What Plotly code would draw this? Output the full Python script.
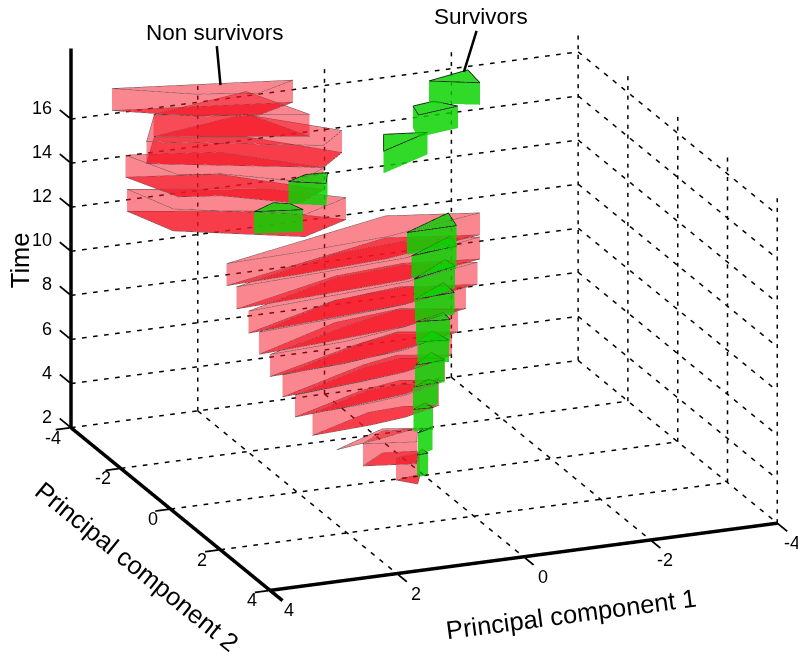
import plotly.graph_objects as go

x_ticks = [4, 2, 0, -2, -4]
y_ticks = [-4, -2, 0, 2, 4]
z_ticks = [2, 4, 6, 8, 10, 12, 14, 16]

# non survivors, one polygon per time slice (top of the slice)
red_top = [3, 4, 6, 7, 8, 9, 10, 11, 12, 13, 14, 15, 16, 17, 18]
red_pc1 = [
    [0.46, 0.03, 0.23],
    [1.04, 0.56, 0.05, 0.27],
    [1.95, 0.81, 0.24, -0.27, 0.39, 1.0],
    [2.25, 0.89, 0.21, -0.4, 0.37, 1.15],
    [2.45, 0.83, 0.2, -0.55, 0.37, 1.32],
    [2.65, 1.01, 0.18, -0.65, 0.35, 1.42],
    [2.79, 1.23, 0.12, -0.78, 0.35, 1.62],
    [2.95, 1.23, 0.1, -0.97, 0.34, 1.68],
    [3.08, 1.19, 0.05, -1.06, 0.31, 1.71],
    [3.19, 0.24, -1.09, 0.57, 1.96],
    [3.67, 1.76, 0.84, 1.68, 3.37],
    [3.49, 2.19, 1.01, 1.56, 2.51, 3.1],
    [2.8, 1.55, 0.51, 1.01, 3.35],
    [3.17, 1.53, 1.05, 1.92],
    [3.67, 1.07, 1.75, 2.63],
]
red_pc2 = [
    [0.04, -0.08, 0.33],
    [0.19, -0.25, -0.14, 0.4],
    [0.48, -0.18, -0.24, -0.08, 0.23, 0.37],
    [0.54, -0.22, -0.43, -0.18, 0.18, 0.35],
    [0.55, -0.35, -0.58, -0.28, 0.18, 0.37],
    [0.55, -0.29, -0.63, -0.29, 0.13, 0.42],
    [0.48, -0.44, -0.66, -0.3, 0.12, 0.33],
    [0.46, -0.45, -0.62, -0.33, 0.11, 0.29],
    [0.3, -0.54, -0.7, -0.45, 0.02, 0.17],
    [0.19, -0.94, -0.54, -0.05, 0.11],
    [-2.58, -1.81, -1.0, -0.51, -1.49],
    [-3.1, -2.72, -1.46, -1.01, -1.78, -1.97],
    [-3.71, -3.2, -2.0, -1.47, -2.62],
    [-2.8, -3.25, -1.93, -2.29],
    [-3.2, -2.54, -2.18, -2.49],
]
# thin sheet at the start of the non survivor branch
sheet_z = 4
sheet_pc1 = [1.49, 0.53, 0.04, 0.72]
sheet_pc2 = [0.29, -0.34, -0.18, 0.07]

# survivors
green_top = [3, 4, 5, 6, 7, 8, 9, 10, 11, 12, 13, 14, 15, 16, 17, 18]
green_pc1 = [
    [0.12, -0.04, -0.06],
    [0.11, -0.03, -0.17],
    [0.15, -0.12, -0.15],
    [0.15, -0.19, -0.27],
    [0.12, -0.31, -0.36],
    [0.07, -0.31, -0.39],
    [0.12, -0.4, -0.38],
    [0.13, -0.54, -0.52],
    [0.17, -0.58, -0.6],
    [0.19, -0.67, -0.59],
    [0.23, -0.66, -0.56],
    [2.32, 1.91, 1.7, 1.62],
    [1.72, 1.37, 1.04, 1.24],
    [0.01, -0.62, 0.29],
    [-0.49, -0.86, -1.1, -0.42],
    [-0.76, -1.47, -1.42],
]
green_pc2 = [
    [0.03, -0.19, 0.01],
    [0.03, -0.11, -0.1],
    [-0.05, -0.27, -0.02],
    [-0.06, -0.31, -0.13],
    [-0.05, -0.51, -0.1],
    [-0.09, -0.47, 0.0],
    [-0.02, -0.25, 0.08],
    [-0.04, -0.59, -0.11],
    [0.03, -0.63, -0.28],
    [-0.03, -0.65, -0.2],
    [-0.11, -0.71, -0.13],
    [-0.92, -1.19, -1.05, -0.73],
    [-1.07, -1.27, -1.23, -0.78],
    [-1.6, -1.44, -0.89],
    [-1.7, -1.79, -1.45, -1.29],
    [-1.74, -1.99, -1.38],
]

RED = 'rgb(245,20,35)'
GREEN = 'rgb(10,210,0)'


def prism_mesh(px, py, top, color, opacity, height=1):
    n = len(px)
    xs = list(px) + list(px)
    ys = list(py) + list(py)
    zs = [top] * n + [top - height] * n
    i, j, k = [], [], []
    for m in range(1, n - 1):
        i += [0, n]
        j += [m, n + m]
        k += [m + 1, n + m + 1]
    if height > 0:
        for m in range(n):
            nxt = (m + 1) % n
            i += [m, nxt]
            j += [nxt, n + nxt]
            k += [n + m, n + m]
    return go.Mesh3d(x=xs, y=ys, z=zs, i=i, j=j, k=k, color=color, opacity=opacity,
                     flatshading=True, hoverinfo='skip',
                     lighting=dict(ambient=1, diffuse=0, specular=0, fresnel=0, roughness=1))


def outline(polys_x, polys_y, tops, color, width, height=1):
    xs, ys, zs = [], [], []
    for px, py, top in zip(polys_x, polys_y, tops):
        levels = [top, top - height] if height > 0 else [top]
        for level in levels:
            xs += list(px) + [px[0], None]
            ys += list(py) + [py[0], None]
            zs += [level] * len(px) + [level, None]
    return go.Scatter3d(x=xs, y=ys, z=zs, mode='lines', hoverinfo='skip',
                        line=dict(color=color, width=width))


def segments(pairs, color='black', width=1.5):
    xs, ys, zs = [], [], []
    for a, b in pairs:
        xs += [a[0], b[0], None]
        ys += [a[1], b[1], None]
        zs += [a[2], b[2], None]
    return go.Scatter3d(x=xs, y=ys, z=zs, mode='lines', hoverinfo='skip',
                        line=dict(color=color, width=width))


def dashed(a, b, periods, on=0.42):
    # break one grid line into short pieces, the built-in dash is far too long here
    pairs = []
    for p in range(periods):
        t0 = p / periods
        t1 = (p + on) / periods
        pairs.append((tuple(a[c] + (b[c] - a[c]) * t0 for c in range(3)),
                      tuple(a[c] + (b[c] - a[c]) * t1 for c in range(3))))
    return pairs


fig = go.Figure()

grid = []
for x in x_ticks:
    grid += dashed((x, -4, 2), (x, 4, 2), 23)
    grid += dashed((x, -4, 2), (x, -4, 17), 34)
for y in y_ticks:
    grid += dashed((4, y, 2), (-4, y, 2), 46)
    grid += dashed((-4, y, 2), (-4, y, 17), 34)
for z in z_ticks:
    grid += dashed((4, -4, z), (-4, -4, z), 46)
    grid += dashed((-4, -4, z), (-4, 4, z), 23)
fig.add_trace(segments(grid, width=3))

for px, py, top in zip(red_pc1, red_pc2, red_top):
    fig.add_trace(prism_mesh(px, py, top, RED, 0.3))
    # the floor of each slice reads darker than its walls
    fig.add_trace(prism_mesh(px, py, top - 1, RED, 0.4, height=0))
fig.add_trace(prism_mesh(sheet_pc1, sheet_pc2, sheet_z, RED, 0.3, height=0))
for px, py, top in zip(green_pc1, green_pc2, green_top):
    fig.add_trace(prism_mesh(px, py, top, GREEN, 0.6))

fig.add_trace(outline(red_pc1, red_pc2, red_top, '#5a4040', 1))
fig.add_trace(outline([sheet_pc1], [sheet_pc2], [sheet_z], '#5a4040', 1, height=0))
fig.add_trace(outline(green_pc1, green_pc2, green_top, '#102a10', 2, height=0))

# main axes and their ticks
axes = [((4, -4, 2), (4, -4, 19.2)), ((4, -4, 2), (4, 4.5, 2)), ((4, 4, 2), (-4, 4, 2))]
fig.add_trace(segments(axes, width=7))
ticks = []
for x in x_ticks:
    ticks.append(((x, 4, 2), (x, 4.4, 2)))
for y in y_ticks:
    ticks.append(((4, y, 2), (4.24, y, 2)))
for z in z_ticks:
    ticks.append(((4, -4, z), (4, -4.45, z)))
fig.add_trace(segments(ticks, width=3.5))

tick_font = dict(family='Liberation Sans', size=18, color='black')
title_font = dict(family='Liberation Sans', size=25.5, color='black')
label_font = dict(family='Liberation Sans', size=22.5, color='black')
notes = []
for x in x_ticks:
    notes.append(dict(x=x, y=4, z=2, text=str(x), showarrow=False, font=tick_font,
                      xshift=15 if x < 0 else 19, yshift=-20))
for y in y_ticks:
    notes.append(dict(x=4, y=y, z=2, text=str(y), showarrow=False, font=tick_font, xshift=-18, yshift=-10))
for z in z_ticks:
    notes.append(dict(x=4, y=-4, z=z, text=str(z), showarrow=False, font=tick_font, xanchor='right',
                      xshift=-17, yshift=11))
notes.append(dict(x=0, y=4, z=2, text='Principal component 1', showarrow=False, font=title_font,
                  xshift=47, yshift=-57, textangle=-7.5))
notes.append(dict(x=4, y=0, z=2, text='Principal component 2', showarrow=False, font=title_font,
                  xshift=-34, yshift=-57, textangle=39))
notes.append(dict(x=4, y=-4, z=12, text='Time', showarrow=False, font=title_font,
                  xshift=-51, yshift=-53, textangle=-90))
notes.append(dict(x=2.14, y=-2.73, z=18, text='Non survivors', font=label_font, showarrow=True,
                  arrowhead=0, arrowwidth=2.5, arrowcolor='black', ax=-5, ay=-53))
notes.append(dict(x=-1.385, y=-1.93, z=18, text='Survivors', font=label_font, showarrow=True,
                  arrowhead=0, arrowwidth=2.5, arrowcolor='black', ax=17, ay=-55))

hidden = dict(visible=False, showgrid=False, zeroline=False, showticklabels=False, title='')
eye_dir = (0.3526, 0.8757, 0.329)
dist = 2.0
center = dict(x=0.0567, y=0.0344, z=-0.1523)
scene = dict(
    domain=dict(x=[0, 1], y=[0, 1]),
    xaxis=dict(hidden, range=[-4.5, 4.5]),
    yaxis=dict(hidden, range=[-4.7, 4.7]),
    zaxis=dict(hidden, range=[1.9, 19.4]),
    aspectmode='manual',
    aspectratio=dict(x=1.864, y=1.898, z=1.238),
    camera=dict(projection=dict(type='orthographic'), up=dict(x=0, y=0, z=1), center=center,
                eye=dict(x=center['x'] + dist * eye_dir[0],
                         y=center['y'] + dist * eye_dir[1],
                         z=center['z'] + dist * eye_dir[2])),
    annotations=notes,
)
fig.update_layout(width=806, height=660, margin=dict(t=0, b=0, l=0, r=0), showlegend=False,
                  paper_bgcolor='white', scene=scene)
fig.write_html("out.html")
